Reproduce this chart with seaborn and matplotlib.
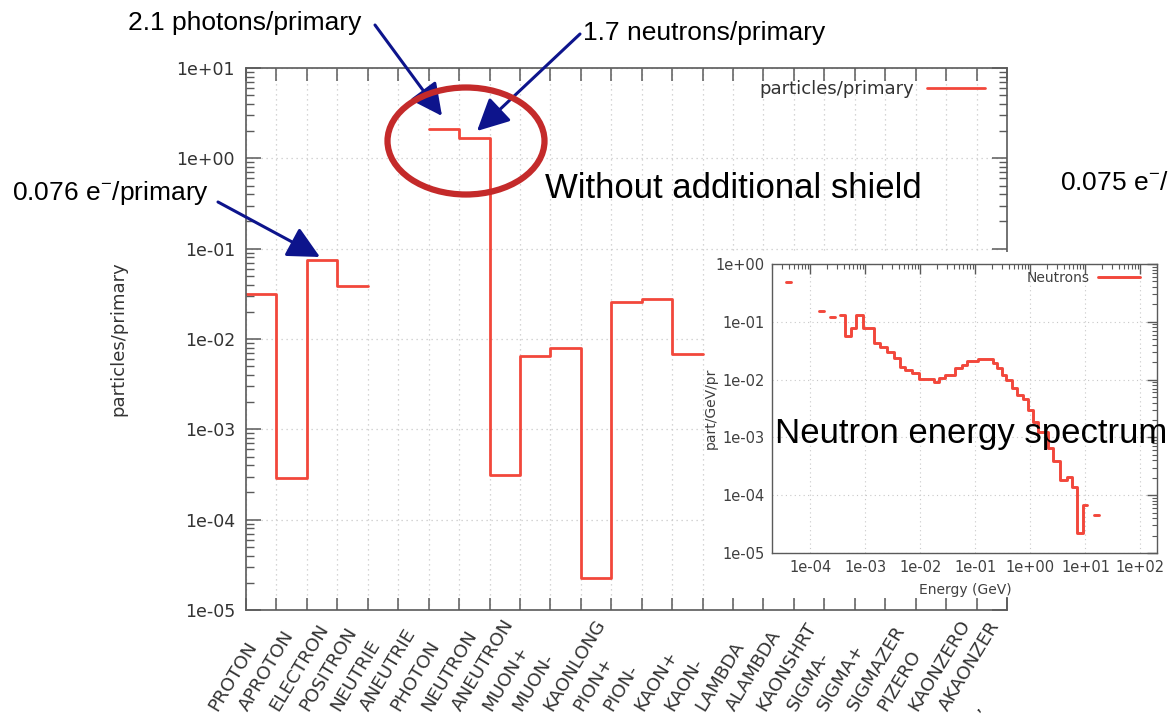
import numpy as np
import pandas as pd
import matplotlib
matplotlib.use("Agg")
import matplotlib.pyplot as plt
import seaborn as sns
from matplotlib.patches import Ellipse, Rectangle, FancyArrowPatch
from matplotlib.lines import Line2D
from matplotlib.transforms import ScaledTranslation
from matplotlib.ticker import FixedLocator, LogLocator, FuncFormatter, NullFormatter

# ---------------- data ----------------
particles = ["PROTON", "APROTON", "ELECTRON", "POSITRON", "NEUTRIE", "ANEUTRIE",
             "PHOTON", "NEUTRON", "ANEUTRON", "MUON+", "MUON-", "KAONLONG",
             "PION+", "PION-", "KAON+", "KAON-", "LAMBDA", "ALAMBDA", "KAONSHRT",
             "SIGMA-", "SIGMA+", "SIGMAZER", "PIZERO", "KAONZERO", "AKAONZER", ","]
nan = np.nan
yields = [0.0313, 2.92e-4, 0.0756, 0.0387, nan, nan,
          2.1, 1.7, 3.12e-4, 6.43e-3, 8.0e-3, 2.25e-5,
          0.0254, 0.0278, 6.87e-3, nan, nan, nan, nan,
          nan, nan, nan, nan, nan, nan, nan]

# neutron spectrum bins (GeV) and values (part/GeV/pr)
spec_lo = [3.66e-5, 1.42e-4, 2.31e-4,
           3.50e-4, 4.32e-4, 5.47e-4, 6.84e-4, 9.03e-4, 1.41e-3, 1.86e-3, 2.46e-3,
           3.25e-3, 4.18e-3, 5.30e-3, 7.00e-3, 9.25e-3, 1.73e-2, 2.13e-2, 2.82e-2,
           4.29e-2, 5.66e-2, 6.97e-2, 0.1135, 0.2123, 0.2443, 0.3006, 0.3606,
           0.4571, 0.5636, 0.7447, 0.9162, 1.130, 1.393, 2.113, 2.606, 3.443,
           4.550, 5.610, 7.112, 9.141,
           14.26]
spec_hi = [4.46e-5, 1.75e-4, 2.84e-4,
           4.32e-4, 5.47e-4, 6.84e-4, 9.03e-4, 1.41e-3, 1.86e-3, 2.46e-3, 3.25e-3,
           4.18e-3, 5.30e-3, 7.00e-3, 9.25e-3, 1.73e-2, 2.13e-2, 2.82e-2, 4.29e-2,
           5.66e-2, 6.97e-2, 0.1135, 0.2123, 0.2443, 0.3006, 0.3606, 0.4571,
           0.5636, 0.7447, 0.9162, 1.130, 1.393, 2.113, 2.606, 3.443, 4.550,
           5.610, 7.112, 9.141, 10.79,
           17.58]
spec_val = [0.48, 0.156, 0.121,
            0.131, 0.0577, 0.0773, 0.131, 0.0794, 0.0437, 0.0363, 0.0306,
            0.0234, 0.0162, 0.0147, 0.0129, 0.0102, 0.00926, 0.0106, 0.0121,
            0.0157, 0.0180, 0.0213, 0.0225, 0.0192, 0.0157, 0.0121, 0.00990,
            0.00710, 0.00544, 0.00458, 0.00300, 0.00188, 0.00122, 6.53e-4, 3.84e-4,
            1.85e-4, 2.06e-4, 1.36e-4, 2.22e-5, 6.84e-5,
            4.5e-5]

# ---------------- style ----------------
W, H = 1173, 723
sns.set_theme(style="white")
plt.rcParams["font.family"] = ["DejaVu Sans"]
plt.rcParams["mathtext.fontset"] = "custom"
plt.rcParams["mathtext.rm"] = "Liberation Sans"
RED = "#f2473b"
NAVY = "#0d148c"
SPINE = "#5a5a5a"
TXT = "#333333"
ANN_FONT = ["Liberation Sans", "DejaVu Sans"]


def fx(px):
    return px / W


def fy(py):
    return 1 - py / H


fig = plt.figure(figsize=(W / 100, H / 100), dpi=100)
fig.patch.set_facecolor("white")

# ---------------- main axes ----------------
ax = fig.add_axes([fx(246), fy(610), fx(1007) - fx(246), fy(68) - fy(610)])
ax.set_zorder(0)
ax.set_yscale("log")
ax.set_ylim(1e-5, 10)
ax.set_xlim(0, len(particles) - 1)

df = pd.DataFrame({"idx": np.arange(len(particles)), "val": yields})
valid = df["val"].notna().to_numpy()
i = 0
while i < len(df):
    if valid[i]:
        j = i
        while j + 1 < len(df) and valid[j + 1]:
            j += 1
        seg = df.iloc[i:j + 1]
        xs = list(seg["idx"]) + [seg["idx"].iloc[-1] + 1]
        ys = list(seg["val"]) + [seg["val"].iloc[-1]]
        sns.lineplot(x=xs, y=ys, ax=ax, color=RED, lw=2.0, estimator=None,
                     sort=False, drawstyle="steps-post")
        i = j + 1
    else:
        i += 1

ax.xaxis.set_major_locator(FixedLocator(np.arange(len(particles))))
ax.set_xticklabels(particles, rotation=59, ha="left", va="baseline",
                   rotation_mode="anchor", fontsize=13.2, color=TXT)
ax.yaxis.set_major_locator(LogLocator(base=10, numticks=20))
ax.yaxis.set_minor_locator(LogLocator(base=10, subs=np.arange(2, 10), numticks=20))
ax.yaxis.set_major_formatter(FuncFormatter(lambda v, p: f"{v:.0e}"))
ax.yaxis.set_minor_formatter(NullFormatter())
ax.tick_params(axis="x", which="major", direction="in", length=9, width=1.1,
               color=SPINE, top=True, bottom=True, pad=0)
ax.tick_params(axis="y", which="major", direction="in", length=11, width=1.1,
               color=SPINE, left=True, right=True, labelsize=12.5,
               labelcolor=TXT, pad=8)
ax.tick_params(axis="y", which="minor", direction="in", length=6, width=1.0,
               color=SPINE, left=True, right=True)
lab_shift = ScaledTranslation(-0.29, -1.02, fig.dpi_scale_trans)
for lab in ax.get_xticklabels():
    lab.set_transform(lab.get_transform() + lab_shift)
for s in ax.spines.values():
    s.set_color(SPINE)
    s.set_linewidth(1.2)
ax.grid(True, which="major", color="#c8c8c8", linestyle=(0, (1, 3)), lw=0.9)
ax.set_ylabel("particles/primary", fontsize=13, color=TXT)
ax.yaxis.set_label_coords(-0.156, 0.5)
ax.set_xlabel("")
leg = ax.legend(handles=[Line2D([], [], color=RED, lw=2.0)],
                labels=["particles/primary"], loc="upper right",
                bbox_to_anchor=(fx(985), fy(80)), bbox_transform=fig.transFigure,
                frameon=False, markerfirst=False, fontsize=13, borderpad=0,
                borderaxespad=0, handlelength=3.2, handletextpad=0.7)
for t in leg.get_texts():
    t.set_color(TXT)

# ---------------- white panel under inset ----------------
fig.add_artist(Rectangle((fx(705), fy(597)), fx(1173) - fx(705), fy(252) - fy(597),
                         transform=fig.transFigure, facecolor="white",
                         edgecolor="none", zorder=1))

# ---------------- inset ----------------
ax2 = fig.add_axes([fx(772), fy(553), fx(1157) - fx(772), fy(264) - fy(553)])
ax2.set_zorder(2)
ax2.set_xscale("log")
ax2.set_yscale("log")
ax2.set_xlim(2e-5, 2e2)
ax2.set_ylim(1e-5, 1)

sp = pd.DataFrame({"lo": spec_lo, "hi": spec_hi, "val": spec_val})
i = 0
n = len(sp)
while i < n:
    j = i
    while j + 1 < n and abs(sp["hi"].iloc[j] - sp["lo"].iloc[j + 1]) < 1e-12:
        j += 1
    seg = sp.iloc[i:j + 1]
    xs = list(seg["lo"]) + [seg["hi"].iloc[-1]]
    ys = list(seg["val"]) + [seg["val"].iloc[-1]]
    sns.lineplot(x=xs, y=ys, ax=ax2, color=RED, lw=2.1, estimator=None,
                 sort=False, drawstyle="steps-post")
    i = j + 1

ax2.xaxis.set_major_locator(FixedLocator([1e-4, 1e-3, 1e-2, 1e-1, 1, 10, 100]))
ax2.xaxis.set_minor_locator(LogLocator(base=10, subs=np.arange(2, 10), numticks=20))
ax2.yaxis.set_major_locator(FixedLocator([1e-5, 1e-4, 1e-3, 1e-2, 1e-1, 1]))
ax2.yaxis.set_minor_locator(LogLocator(base=10, subs=np.arange(2, 10), numticks=20))
fmt = FuncFormatter(lambda v, p: f"{v:.0e}")
ax2.xaxis.set_major_formatter(fmt)
ax2.yaxis.set_major_formatter(fmt)
ax2.xaxis.set_minor_formatter(NullFormatter())
ax2.yaxis.set_minor_formatter(NullFormatter())
ax2.tick_params(which="major", direction="in", length=7, width=1.0, color=SPINE,
                top=True, right=True, labelsize=10.5, labelcolor="#404040", pad=5)
ax2.tick_params(which="minor", direction="in", length=3.5, width=0.8, color=SPINE,
                top=True, right=True)
for s in ax2.spines.values():
    s.set_color(SPINE)
    s.set_linewidth(1.0)
ax2.grid(True, which="major", color="#c8c8c8", linestyle=(0, (1, 3)), lw=0.8)
ax2.set_xlabel("Energy (GeV)", fontsize=10, color="#404040")
ax2.set_ylabel("part/GeV/pr", fontsize=10, color="#404040")
ax2.xaxis.set_label_coords(0.502, -0.105)
ax2.yaxis.set_label_coords(-0.142, 0.5)
leg2 = ax2.legend(handles=[Line2D([], [], color=RED, lw=2.1)], labels=["Neutrons"],
                  loc="upper right", bbox_to_anchor=(fx(1140), fy(271)),
                  bbox_transform=fig.transFigure, frameon=False, markerfirst=False,
                  fontsize=10, borderpad=0, borderaxespad=0, handlelength=3.0,
                  handletextpad=0.6)
for t in leg2.get_texts():
    t.set_color("#404040")

# ---------------- overlay annotations ----------------
fig.text(fx(128), fy(23), "2.1 photons/primary", fontsize=19, family=ANN_FONT,
         va="center", ha="left", color="black", zorder=5)
fig.text(fx(583), fy(33), "1.7 neutrons/primary", fontsize=19, family=ANN_FONT,
         va="center", ha="left", color="black", zorder=5)
fig.text(fx(12), fy(193), "0.076 e$^{-}$/primary", fontsize=19, family=ANN_FONT,
         va="center", ha="left", color="black", zorder=5)
fig.text(fx(1060), fy(183), "0.075 e$^{-}$/", fontsize=19, family=ANN_FONT,
         va="center", ha="left", color="black", zorder=5)
fig.text(fx(545), fy(189), "Without additional shield", fontsize=25,
         family=ANN_FONT, va="center", ha="left", color="black", zorder=5)
fig.text(fx(775), fy(433), "Neutron energy spectrum", fontsize=25,
         family=ANN_FONT, va="center", ha="left", color="black", zorder=5)

for (x0, y0, x1, y1) in [(375, 25, 442, 116), (580, 34, 477, 131), (218, 202, 320, 257)]:
    fig.add_artist(FancyArrowPatch((fx(x0), fy(y0)), (fx(x1), fy(y1)),
                                   transform=fig.transFigure,
                                   arrowstyle="-|>,head_length=1.4,head_width=0.7",
                                   mutation_scale=14, lw=2.2, color=NAVY,
                                   shrinkA=0, shrinkB=0, zorder=6))

fig.add_artist(Ellipse((fx(466), fy(141)), fx(157), 107 / H,
                       transform=fig.transFigure, fill=False, edgecolor="#c42a2a",
                       lw=4.5, zorder=6))

fig.savefig("out.png", dpi=100)
